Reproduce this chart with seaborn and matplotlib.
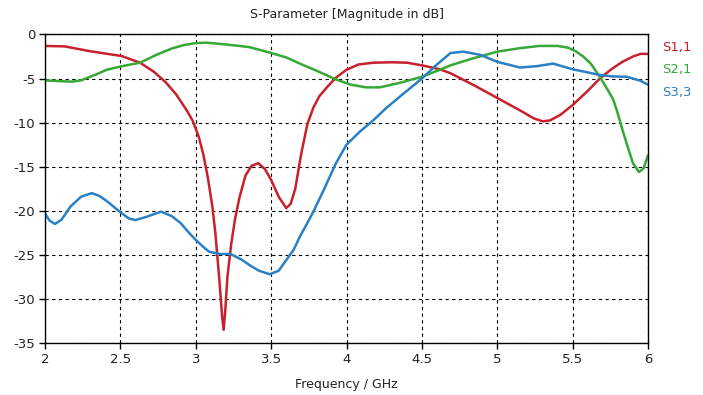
import matplotlib
matplotlib.use("Agg")
import matplotlib.pyplot as plt
import seaborn as sns

# values (frequency in GHz, magnitude in dB)
s11_freq = [2.0, 2.13, 2.3, 2.51, 2.63, 2.72, 2.80, 2.87, 2.94, 2.98, 3.02, 3.05, 3.08,
            3.11, 3.13, 3.155, 3.175, 3.185, 3.195, 3.21, 3.235, 3.26, 3.29, 3.33, 3.37,
            3.415, 3.46, 3.50, 3.55, 3.60, 3.63, 3.66, 3.70, 3.74, 3.78, 3.82, 3.88,
            3.93, 4.0, 4.08, 4.18, 4.30, 4.40, 4.50, 4.62, 4.69, 4.85, 5.0, 5.15,
            5.24, 5.30, 5.35, 5.42, 5.50, 5.60, 5.68, 5.76, 5.83, 5.90, 5.95, 6.0]
s11_db = [-1.3, -1.35, -1.9, -2.45, -3.2, -4.2, -5.4, -6.8, -8.6, -9.8, -11.6, -13.6,
          -16.2, -19.5, -22.5, -27.5, -32.0, -33.5, -31.5, -27.5, -23.8, -21.0, -18.5,
          -16.0, -14.9, -14.6, -15.3, -16.5, -18.4, -19.7, -19.2, -17.5, -13.5, -10.2,
          -8.3, -7.0, -5.8, -4.9, -4.0, -3.4, -3.2, -3.15, -3.2, -3.5, -3.95, -4.4,
          -5.8, -7.2, -8.6, -9.5, -9.85, -9.75, -9.1, -8.0, -6.4, -5.0, -3.9, -3.1,
          -2.5, -2.2, -2.2]

s21_freq = [2.0, 2.1, 2.18, 2.24, 2.33, 2.41, 2.51, 2.63, 2.74, 2.84, 2.92, 3.0, 3.07,
            3.18, 3.29, 3.36, 3.50, 3.60, 3.69, 3.80, 3.93, 4.03, 4.13, 4.22, 4.35,
            4.50, 4.62, 4.69, 4.84, 5.0, 5.15, 5.28, 5.40, 5.47, 5.52, 5.57, 5.62,
            5.68, 5.73, 5.77, 5.80, 5.83, 5.87, 5.90, 5.94, 5.97, 6.0]
s21_db = [-5.2, -5.3, -5.35, -5.2, -4.6, -4.0, -3.6, -3.2, -2.3, -1.6, -1.2, -0.98,
          -0.93, -1.1, -1.3, -1.45, -2.1, -2.6, -3.3, -4.1, -5.1, -5.7, -6.0, -6.0,
          -5.5, -4.8, -4.0, -3.5, -2.7, -1.95, -1.55, -1.3, -1.3, -1.5, -1.9, -2.5,
          -3.3, -4.8, -6.2, -7.4, -9.0, -10.8, -13.0, -14.6, -15.6, -15.2, -13.7]

s33_freq = [2.0, 2.03, 2.066, 2.11, 2.17, 2.24, 2.31, 2.36, 2.41, 2.46, 2.51, 2.56,
            2.60, 2.67, 2.77, 2.84, 2.90, 2.95, 3.0, 3.05, 3.09, 3.16, 3.23, 3.30,
            3.36, 3.42, 3.49, 3.55, 3.60, 3.65, 3.69, 3.74, 3.78, 3.85, 3.93, 4.0,
            4.09, 4.18, 4.26, 4.35, 4.50, 4.60, 4.69, 4.775, 4.885, 5.0, 5.15, 5.26,
            5.37, 5.50, 5.60, 5.68, 5.76, 5.86, 5.95, 6.0]
s33_db = [-20.3, -21.1, -21.5, -21.0, -19.5, -18.4, -18.0, -18.3, -18.9, -19.6, -20.3,
          -20.9, -21.05, -20.7, -20.1, -20.6, -21.4, -22.4, -23.3, -24.1, -24.65, -24.9,
          -24.9, -25.5, -26.2, -26.8, -27.2, -26.8, -25.6, -24.4, -22.95, -21.4, -20.1,
          -17.6, -14.6, -12.5, -11.0, -9.7, -8.4, -7.1, -5.0, -3.4, -2.1, -1.95, -2.3,
          -3.1, -3.75, -3.6, -3.3, -3.95, -4.3, -4.6, -4.75, -4.8, -5.25, -5.7]

labels = ["S1,1", "S2,1", "S3,3"]
colors = ["#c8202c", "#35a835", "#2a80c4"]

sns.set_style("white")
plt.rcParams["font.family"] = ["DejaVu Sans"]
plt.rcParams["axes.unicode_minus"] = False

fig = plt.figure(figsize=(7.03, 3.95), dpi=100)
ax = fig.add_axes([0.064, 0.1316, 0.8578, 0.7811])

series = [(s11_freq, s11_db), (s21_freq, s21_db), (s33_freq, s33_db)]
for (f, db), color in zip(series, colors):
    sns.lineplot(x=f, y=db, color=color, linewidth=1.8, ax=ax)

ax.set_xlim(2, 6)
ax.set_ylim(-35, 0)
ax.set_xticks([2, 2.5, 3, 3.5, 4, 4.5, 5, 5.5, 6])
ax.set_xticklabels(["2", "2.5", "3", "3.5", "4", "4.5", "5", "5.5", "6"])
ax.set_yticks([0, -5, -10, -15, -20, -25, -30, -35])
ax.grid(True, color="black", linestyle=(0, (3, 3)), linewidth=0.8)
for spine in ax.spines.values():
    spine.set_color("black")
    spine.set_linewidth(1.0)
ax.tick_params(axis="both", direction="out", length=4, width=1, color="black",
               labelsize=9.5, labelcolor="#222222", left=True, bottom=True, pad=3)

ax.set_title("S-Parameter [Magnitude in dB]", fontsize=9, color="#222222", pad=12)
ax.set_xlabel("Frequency / GHz", fontsize=9, color="#222222", labelpad=9)
ax.set_ylabel("")

for i, (label, color) in enumerate(zip(labels, colors)):
    fig.text(0.942, 0.881 - i * 0.058, label, color=color, fontsize=9.5, va="center")

fig.savefig("out.png", dpi=100)
